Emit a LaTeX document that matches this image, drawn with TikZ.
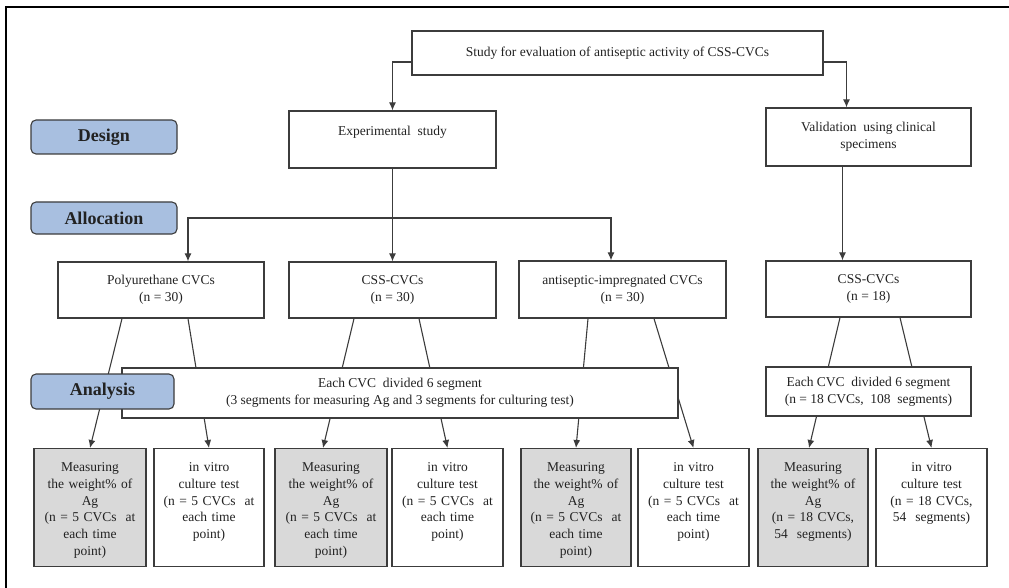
\documentclass[tikz,border=0pt]{standalone}
\usepackage{fontspec}
\setmainfont{Liberation Serif}
\usetikzlibrary{arrows.meta}
\definecolor{T}{RGB}{34, 34, 34}
\definecolor{L}{RGB}{60, 60, 60}
\definecolor{S}{RGB}{168, 191, 224}
\definecolor{Gr}{RGB}{217, 217, 217}

\tikzset{
  box/.style={draw=L, line width=1.3pt, fill=white, text=T, align=center, inner sep=2pt},
  low/.style={box, anchor=north, text width=104pt, inner xsep=3pt, inner ysep=0pt, text height=23pt, text depth=95pt},
  lowgrey/.style={low, fill=Gr},
  stage/.style={draw=L, line width=1.1pt, rounded corners=5pt, fill=S, text=T, font=\fontsize{18}{20}\selectfont\bfseries, minimum height=34pt},
  arr/.style={draw=L, line width=1.1pt, -{Latex[length=8pt,width=7pt]}},
  ln/.style={draw=L, line width=1.1pt}
}

\begin{document}
\begin{tikzpicture}[x=1pt, y=-1pt, font=\fontsize{13.5}{16.7}\selectfont]
  \useasboundingbox (0,0) rectangle (1009,588);

	%# MARCO
  \draw[black, line width=2pt] (1009,7) -- (6,7) -- (6,588);

	%# DISENO
  \node[box, minimum width=411pt, minimum height=44pt] (top) at (617.5,53) {Study for evaluation of antiseptic activity of CSS-CVCs};
  \node[box, minimum width=207pt, minimum height=57pt] (exp) at (392.5,139.5) {Experimental~~study\\ ~};
  \node[box, minimum width=205pt, minimum height=58pt] (val) at (868.5,137) {Validation~~using clinical\\specimens};

  \draw[arr] ([yshift=-9pt]top.west) -| (exp.north);
  \draw[arr] ([yshift=-9pt]top.east) -| ([xshift=-22pt]val.north);

	%# GRUPOS
  \node[box, minimum width=206pt, minimum height=56pt] (poly) at (161,290) {Polyurethane CVCs\\(n = 30)};
  \node[box, minimum width=207pt, minimum height=56pt] (css) at (392.5,290) {CSS-CVCs\\(n = 30)};
  \node[box, minimum width=207pt, minimum height=57pt] (anti) at (622.5,289.5) {antiseptic-impregnated CVCs\\(n = 30)};
  \node[box, minimum width=205pt, minimum height=56pt] (css18) at (868.5,289) {CSS-CVCs\\(n = 18)};

  \coordinate (alloc) at (392.5,218);
  \draw[arr] (exp) -- (css);
  \draw[arr] (alloc) -| ([xshift=27pt]poly.north);
  \draw[arr] (alloc) -| ([xshift=-11.5pt]anti.north);
  \draw[arr] ([xshift=-26pt]val.south) -- ([xshift=-26pt]css18.north);

	%# MEDICION
  \node[lowgrey, minimum width=112pt] (m1) at (90,448) {Measuring\\the weight\% of\\Ag\\(n = 5 CVCs~ at\\each time\\point)};
  \node[low, minimum width=110pt] (m2) at (209,448) {in vitro\\culture test\\(n = 5 CVCs~ at\\each time\\point)};
  \node[lowgrey, minimum width=112pt] (m3) at (331,448) {Measuring\\the weight\% of\\Ag\\(n = 5 CVCs~ at\\each time\\point)};
  \node[low, minimum width=111pt] (m4) at (447.5,448) {in vitro\\culture test\\(n = 5 CVCs~ at\\each time\\point)};
  \node[lowgrey, minimum width=110pt] (m5) at (576,448) {Measuring\\the weight\% of\\Ag\\(n = 5 CVCs~ at\\each time\\point)};
  \node[low, minimum width=111pt] (m6) at (693.5,448) {in vitro\\culture test\\(n = 5 CVCs~ at\\each time\\point)};
  \node[lowgrey, minimum width=110pt] (m7) at (813,448) {Measuring\\the weight\% of\\Ag\\(n = 18 CVCs,\\54~ segments)};
  \node[low, minimum width=111pt] (m8) at (931.5,448) {in vitro\\culture test\\(n = 18 CVCs,\\54~ segments)};

  \draw[arr] ([xshift=-39pt]poly.south) -- (m1.north);
  \draw[arr] ([xshift=27pt]poly.south) -- (m2.north);
  \draw[arr] ([xshift=-38.5pt]css.south) -- ([xshift=-8pt]m3.north);
  \draw[arr] ([xshift=26.5pt]css.south) -- (m4.north);
  \draw[arr] ([xshift=-34.5pt]anti.south) -- (m5.north);
  \draw[arr] ([xshift=31.5pt]anti.south) -- (m6.north);
  \draw[arr] ([xshift=-28.5pt]css18.south) -- ([xshift=-4pt]m7.north);
  \draw[arr] ([xshift=31.5pt]css18.south) -- (m8.north);

	%# SEGMENTOS
  \node[box, minimum width=556pt, minimum height=50pt] (div) at (400,393) {Each CVC~~divided 6 segment\\(3 segments for measuring~Ag and 3 segments for culturing test)};
  \node[box, minimum width=205pt, minimum height=49pt] (div18) at (868.5,391.5) {Each CVC~~divided 6 segment\\(n = 18 CVCs,~~108~~segments)};

	%# ETAPAS
  \node[stage, minimum width=146pt] (design) at (104,137) {Design};
  \node[stage, minimum width=146pt, minimum height=32pt] (allocation) at (104,218) {Allocation};
  \node[stage, minimum width=143pt, minimum height=35pt] (analysis) at (102.5,391.5) {Analysis};
\end{tikzpicture}
\end{document}
